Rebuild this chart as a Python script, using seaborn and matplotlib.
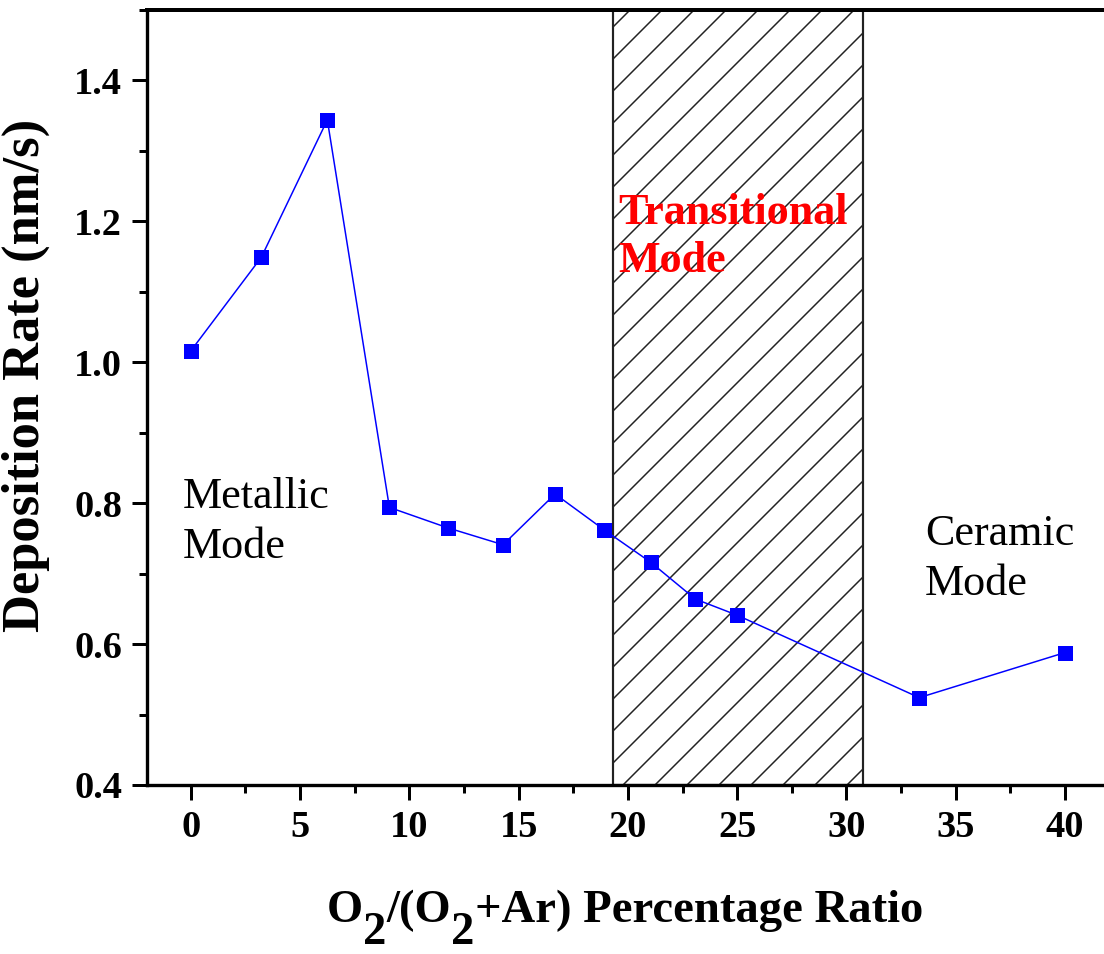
import numpy as np
import pandas as pd
import matplotlib
matplotlib.use("Agg")
import matplotlib.pyplot as plt
import seaborn as sns
from matplotlib.ticker import MultipleLocator, FormatStrFormatter

# ---- data ----
o2_ratio = [0, 3.23, 6.25, 9.09, 11.76, 14.29, 16.67, 18.92, 21.05, 23.08, 25.0, 33.33, 40.0]
dep_rate = [1.016, 1.149, 1.344, 0.794, 0.765, 0.741, 0.813, 0.762, 0.716, 0.664, 0.641, 0.524, 0.588]
transition_span = [19.33, 30.75]
x_ticks = [0, 5, 10, 15, 20, 25, 30, 35, 40]
y_ticks = [0.4, 0.6, 0.8, 1.0, 1.2, 1.4]

df = pd.DataFrame({"ratio": o2_ratio, "rate": dep_rate})

W, H, DPI = 1104, 954, 96
k = 120 / DPI  # size scale so that pixel sizes stay the same

sns.set_style("ticks")
plt.rcParams["font.family"] = ["Liberation Serif", "DejaVu Serif"]
plt.rcParams["text.color"] = "black"
plt.rcParams["axes.labelcolor"] = "black"
plt.rcParams["hatch.linewidth"] = 0.9 * k
plt.rcParams["hatch.color"] = "black"

fig = plt.figure(figsize=(W / DPI, H / DPI), dpi=DPI)
ax = fig.add_axes([147 / W, 169 / H, 961.75 / W, 775 / H])

ax.axvspan(transition_span[0], transition_span[1], facecolor="none",
           edgecolor="#222222", hatch="/", linewidth=1.3 * k, zorder=1)

sns.lineplot(data=df, x="ratio", y="rate", ax=ax, color="#0000ff", linewidth=0.9 * k,
             marker="s", markersize=9 * k, markeredgewidth=0, markerfacecolor="#0000ff",
             zorder=3, legend=False)

ax.set_xlim(-2, 42)
ax.set_ylim(0.4, 1.5)
ax.set_xticks(x_ticks)
ax.set_yticks(y_ticks)
ax.xaxis.set_minor_locator(MultipleLocator(2.5))
ax.yaxis.set_minor_locator(MultipleLocator(0.1))
ax.yaxis.set_major_formatter(FormatStrFormatter("%.1f"))

for s in ["left", "top", "bottom", "right"]:
    ax.spines[s].set_linewidth(2.0 * k)
    ax.spines[s].set_color("black")
ax.spines["top"].set_linewidth(2.4 * k)

ax.tick_params(axis="both", which="major", direction="out", length=9 * k, width=1.8 * k,
               labelsize=23 * k, pad=6 * k, color="black", labelcolor="black")
ax.tick_params(axis="both", which="minor", direction="out", length=5 * k, width=1.8 * k,
               color="black")
for lab in ax.get_xticklabels() + ax.get_yticklabels():
    lab.set_fontweight("bold")

ax.set_xlabel("")
ax.set_ylabel("Deposition Rate (nm/s)", fontsize=31.5 * k, fontweight="bold", color="black")
ax.yaxis.set_label_coords(-0.101, 0.528)

# annotations (y = baseline of the last line)
ax.text(-0.37, 0.722, "Metallic\nMode", fontsize=26.5 * k, color="black",
        ha="left", va="baseline", linespacing=1.33)
ax.text(33.6, 0.670, "Ceramic\nMode", fontsize=26.5 * k, color="black",
        ha="left", va="baseline", linespacing=1.33)
ax.text(19.55, 1.128, "Transitional\nMode", fontsize=26.5 * k, color="#ff0000",
        fontweight="bold", ha="left", va="baseline", linespacing=1.25)

# x label built from pieces so the subscripts match the reference style
pieces = [("O", 0), ("2", 1), ("/(O", 0), ("2", 1), ("+Ar) Percentage Ratio", 0)]
texts = [fig.text(0, 0, s, fontsize=28 * k, fontweight="bold", color="black",
                  ha="left", va="baseline")
         for s, _ in pieces]
fig.canvas.draw()
r = fig.canvas.get_renderer()
widths = [t.get_window_extent(r).width for t in texts]
x0 = 625 - sum(widths) / 2
base = 954 - 922
drop = 22
for t, w, (s, sub) in zip(texts, widths, pieces):
    t.set_position((x0 / W, (base - sub * drop) / H))
    x0 += w

fig.savefig("out.png", dpi=DPI)
